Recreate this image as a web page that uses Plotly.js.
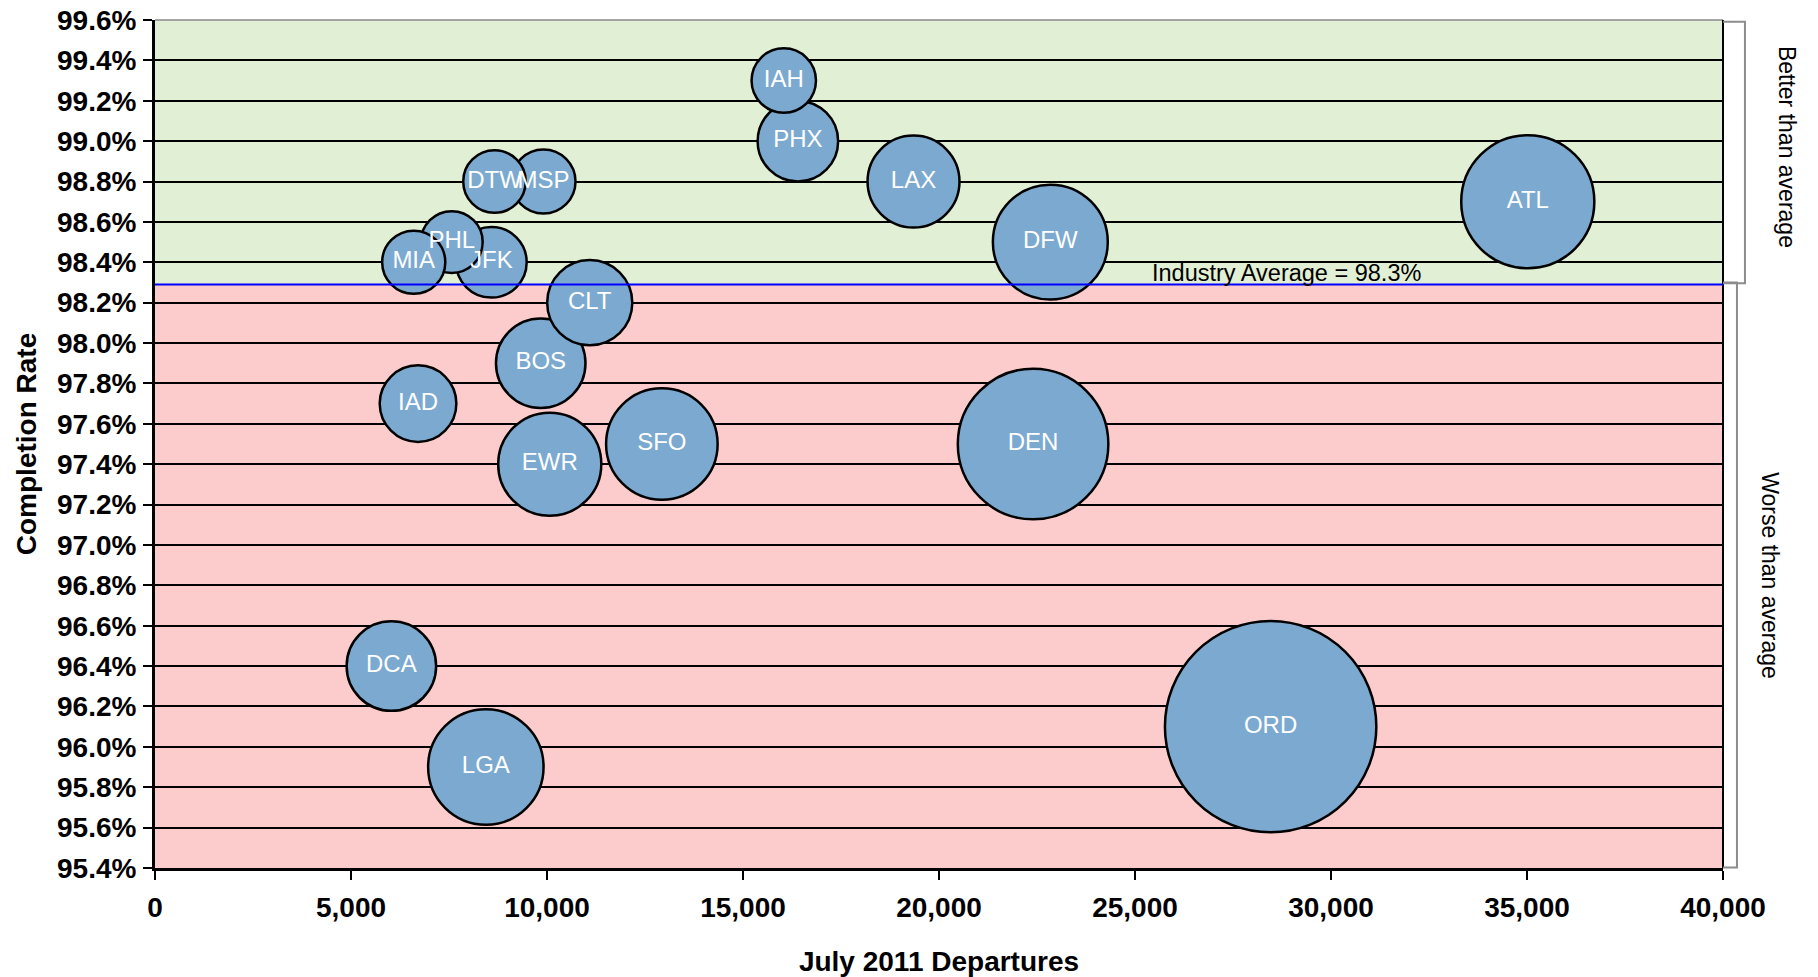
<!DOCTYPE html>
<html>
<head>
<meta charset="utf-8">
<script src="https://cdn.plot.ly/plotly-3.0.1.min.js"></script>
<style>
  html, body { margin: 0; padding: 0; background: #ffffff; }
  #chart { width: 1818px; height: 977px; }
</style>
</head>
<body>
<div id="chart"></div>
<script>
// ---- Data ----
const airports      = ['ORD','DEN','ATL','LGA','DFW','SFO','EWR','LAX','BOS','DCA','CLT','PHX','IAD','JFK','IAH','MSP','DTW','PHL','MIA'];
const departures    = [28460, 22400, 35020, 8440, 22840, 12930, 10070, 19350, 9840, 6030, 11090, 16400, 6710, 8580, 16040, 9910, 8660, 7570, 6600];
const completionPct = [96.1, 97.5, 98.7, 95.9, 98.5, 97.5, 97.4, 98.8, 97.9, 96.4, 98.2, 99.0, 97.7, 98.4, 99.3, 98.8, 98.8, 98.5, 98.4];
const bubbleSize    = [1110, 563, 440, 331, 328, 309, 264, 210, 199, 199, 180, 161, 146, 124, 103, 102, 97, 95, 99];

const industryAvg = 98.29;
const industryLabel = 'Industry Average = 98.3%';

const yTickVals = [95.4, 95.6, 95.8, 96.0, 96.2, 96.4, 96.6, 96.8, 97.0, 97.2, 97.4, 97.6, 97.8, 98.0, 98.2, 98.4, 98.6, 98.8, 99.0, 99.2, 99.4, 99.6];
const yTickText = ['95.4%','95.6%','95.8%','96.0%','96.2%','96.4%','96.6%','96.8%','97.0%','97.2%','97.4%','97.6%','97.8%','98.0%','98.2%','98.4%','98.6%','98.8%','99.0%','99.2%','99.4%','99.6%'];
const xTickVals = [0, 5000, 10000, 15000, 20000, 25000, 30000, 35000, 40000];
const xTickText = ['0','5,000','10,000','15,000','20,000','25,000','30,000','35,000','40,000'];

const xTitle = 'July 2011 Departures';
const yTitle = 'Completion Rate';
const betterLabel = 'Better than average';
const worseLabel = 'Worse than average';

const yMin = 95.4, yMax = 99.6, xMin = 0, xMax = 40000;

const FONT = 'Arial, "Liberation Sans", Helvetica, sans-serif';

const trace = {
  type: 'scatter',
  mode: 'markers+text',
  x: departures,
  y: completionPct,
  text: airports,
  textposition: 'middle center',
  textfont: { family: FONT, size: 24, color: '#ffffff' },
  marker: {
    size: bubbleSize,
    sizemode: 'area',
    sizeref: 0.04968,
    color: 'rgb(124,169,207)',
    opacity: 1,
    line: { color: '#000000', width: 2.5 }
  },
  hoverinfo: 'x+y+text',
  showlegend: false,
  cliponaxis: false
};

const layout = {
  width: 1818,
  height: 977,
  margin: { l: 155, r: 95, t: 20, b: 109 },
  paper_bgcolor: '#ffffff',
  plot_bgcolor: '#ffffff',
  font: { family: FONT, color: '#000000' },
  showlegend: false,
  xaxis: {
    range: [xMin, xMax],
    tickvals: xTickVals,
    ticktext: xTickText,
    tickfont: { family: FONT, size: 28, weight: 'bold', color: '#000000' },
    ticks: 'outside', ticklen: 9, tickwidth: 2, tickcolor: '#000000',
    ticklabelstandoff: 3,
    showline: true, linecolor: '#000000', linewidth: 3,
    showgrid: false, zeroline: false,
    title: { text: xTitle, font: { family: FONT, size: 28, weight: 'bold', color: '#000000' }, standoff: 33 }
  },
  yaxis: {
    range: [yMin, yMax],
    tickvals: yTickVals,
    ticktext: yTickText,
    tickfont: { family: FONT, size: 28, weight: 'bold', color: '#000000' },
    ticks: 'outside', ticklen: 9, tickwidth: 2, tickcolor: '#000000',
    ticklabelstandoff: 1,
    showline: true, linecolor: '#000000', linewidth: 3,
    showgrid: true, gridcolor: '#000000', gridwidth: 2,
    zeroline: false,
    title: { text: yTitle, font: { family: FONT, size: 28, weight: 'bold', color: '#000000' }, standoff: 13 }
  },
  shapes: [
    { type: 'rect', layer: 'below', xref: 'paper', yref: 'y', x0: 0, x1: 1, y0: industryAvg, y1: yMax,
      fillcolor: '#e1efd5', line: { width: 0 } },
    { type: 'rect', layer: 'below', xref: 'paper', yref: 'y', x0: 0, x1: 1, y0: yMin, y1: industryAvg,
      fillcolor: '#fccccc', line: { width: 0 } },
    { type: 'line', layer: 'above', xref: 'paper', yref: 'paper', x0: 0, x1: 1, y0: 1, y1: 1,
      line: { color: '#8a8a8a', width: 1.5 } },
    { type: 'line', layer: 'above', xref: 'paper', yref: 'paper', x0: 1, x1: 1, y0: 0, y1: 1,
      line: { color: '#000000', width: 2 } },
    { type: 'line', layer: 'above', xref: 'paper', yref: 'y', x0: 0, x1: 1, y0: industryAvg, y1: industryAvg,
      line: { color: '#0000ff', width: 2 } },
    { type: 'path', layer: 'above', xref: 'paper', yref: 'paper',
      path: 'M 1,0.998 L 1.014,0.998 L 1.014,0.6895 L 1,0.6895',
      line: { color: '#8c8c8c', width: 2 } },
    { type: 'path', layer: 'above', xref: 'paper', yref: 'paper',
      path: 'M 1,0.6905 L 1.0089,0.6905 L 1.0089,0.0005 L 1,0.0005',
      line: { color: '#8c8c8c', width: 2 } }
  ],
  annotations: [
    { xref: 'x', yref: 'y', x: 25380, y: industryAvg, xanchor: 'left', yanchor: 'middle', yshift: 12,
      text: industryLabel, showarrow: false, font: { family: FONT, size: 23.5, color: '#000000' } },
    { xref: 'paper', yref: 'y', x: 1.0410, y: 98.97, xanchor: 'center', yanchor: 'middle',
      text: betterLabel, textangle: 90, showarrow: false, font: { family: FONT, size: 23, color: '#000000' } },
    { xref: 'paper', yref: 'y', x: 1.0300, y: 96.85, xanchor: 'center', yanchor: 'middle',
      text: worseLabel, textangle: 90, showarrow: false, font: { family: FONT, size: 23, color: '#000000' } }
  ]
};

Plotly.newPlot('chart', [trace], layout, { displayModeBar: false, staticPlot: true });
</script>
</body>
</html>
